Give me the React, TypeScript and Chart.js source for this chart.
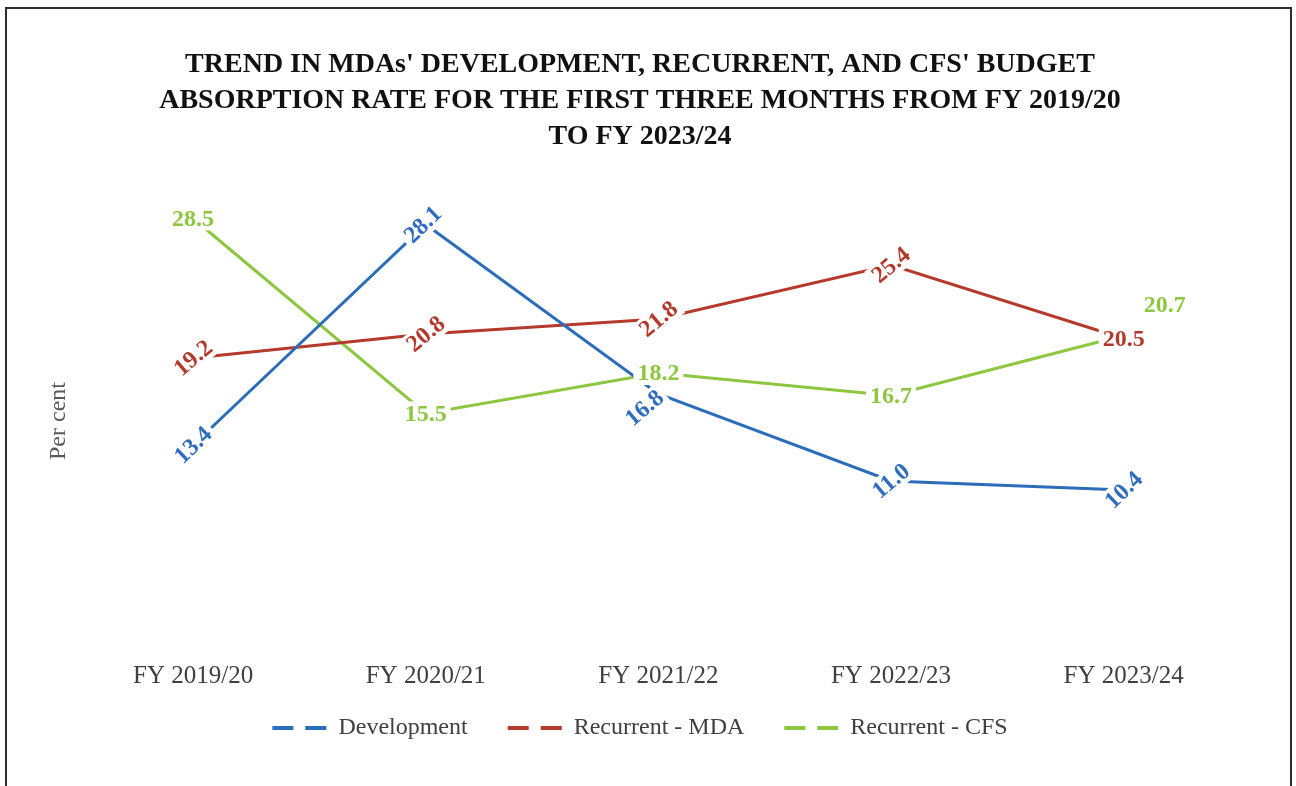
import React, { useEffect, useRef } from 'react';
import { Chart, registerables } from 'chart.js';

Chart.register(...registerables);

// ---------- data ----------
const categories = ['FY 2019/20', 'FY 2020/21', 'FY 2021/22', 'FY 2022/23', 'FY 2023/24'];
const development = [13.4, 28.1, 16.8, 11.0, 10.4];
const recurrentMDA = [19.2, 20.8, 21.8, 25.4, 20.5];
const recurrentCFS = [28.5, 15.5, 18.2, 16.7, 20.7];
const seriesNames = ['Development', 'Recurrent - MDA', 'Recurrent - CFS'];
const titleLines = [
  "TREND IN MDAs' DEVELOPMENT, RECURRENT, AND CFS' BUDGET",
  'ABSORPTION RATE FOR THE FIRST THREE MONTHS FROM FY 2019/20',
  'TO FY 2023/24',
];
const yAxisTitle = 'Per cent';

// ---------- styles ----------
const SERIF = '"Liberation Serif", "Times New Roman", serif';
const lineColors = ['#2C6DB9', '#B53A2C', '#8DC63F'];
const labelColors = ['#2F6DBE', '#B2392C', '#8DC63F'];
// label rotation (degrees) per series / point
const labelRotation = [
  [-44, -44, -40, -40, -44],
  [-40, -40, -40, -40, 0],
  [0, 0, 0, 0, 0],
];
// label offsets (px) per series / point
const labelOffset: number[][][] = [
  [[0, 0], [-3, 0], [-14, 14], [0, 0], [0, 0]],
  [[0, 0], [0, 0], [0, 0], [0, 0], [0, 0]],
  [[0, 0], [0, 0], [0, 0], [0, 0], [41, -31]],
];

const centerLabelPlugin = {
  id: 'centerLabels',
  afterDatasetsDraw(chart: any) {
    const ctx = chart.ctx as CanvasRenderingContext2D;
    ctx.save();
    ctx.font = `bold 24px ${SERIF}`;
    ctx.textAlign = 'center';
    ctx.textBaseline = 'middle';
    chart.data.datasets.forEach((ds: any, i: number) => {
      const meta = chart.getDatasetMeta(i);
      meta.data.forEach((pt: any, j: number) => {
        const v = ds.data[j] as number;
        const text = v.toFixed(1);
        const [dx, dy] = labelOffset[i][j];
        const rot = (labelRotation[i][j] * Math.PI) / 180;
        const w = ctx.measureText(text).width;
        const h = 18;
        ctx.save();
        ctx.translate(pt.x + dx, pt.y + dy);
        ctx.rotate(rot);
        ctx.fillStyle = '#ffffff';
        ctx.fillRect(-w / 2 - 4, -h / 2 - 3, w + 8, h + 6);
        ctx.fillStyle = labelColors[i];
        ctx.fillText(text, 0, 1);
        ctx.restore();
      });
    });
    ctx.restore();
  },
};

// legend rows sit a little higher than the label padding would put them
const LEGEND_SHIFT = 30;
const legendShiftPlugin = {
  id: 'legendShift',
  afterLayout(chart: any) {
    const l = chart.legend;
    if (l) {
      l.top -= LEGEND_SHIFT;
      l.bottom -= LEGEND_SHIFT;
    }
  },
};

export default function App() {
  const ref = useRef<HTMLCanvasElement | null>(null);

  useEffect(() => {
    if (!ref.current) return;
    const series = [development, recurrentMDA, recurrentCFS];
    const chart = new Chart(ref.current, {
      type: 'line',
      data: {
        labels: categories,
        datasets: series.map((d, i) => ({
          label: seriesNames[i],
          data: d,
          borderColor: lineColors[i],
          backgroundColor: lineColors[i],
          borderWidth: 3,
          pointRadius: 0,
          pointHoverRadius: 0,
          tension: 0,
          fill: false,
        })),
      },
      options: {
        responsive: false,
        animation: false,
        events: [],
        layout: { padding: { left: 40, right: 56, top: 0, bottom: 10 } },
        scales: {
          x: {
            type: 'category',
            offset: true,
            grid: { display: false, drawTicks: false },
            border: { display: false },
            ticks: {
              padding: 15,
              color: '#404040',
              font: { family: SERIF, size: 25 },
              maxRotation: 0,
            },
          },
          y: {
            min: 0,
            max: 30,
            grid: { display: false, drawTicks: false },
            border: { display: false },
            ticks: { display: false },
            title: {
              display: true,
              text: yAxisTitle,
              color: '#5a5a5a',
              font: { family: SERIF, size: 24 },
              padding: { top: 4, bottom: 4 },
            },
          },
        },
        plugins: {
          title: {
            display: true,
            text: titleLines,
            color: '#111111',
            font: { family: SERIF, size: 28, weight: 'bold', lineHeight: 1.286 },
            padding: { top: 47, bottom: 41 },
          },
          legend: {
            display: true,
            position: 'bottom',
            maxHeight: 70,
            labels: {
              usePointStyle: true,
              pointStyleWidth: 54,
              padding: 40,
              color: '#404040',
              font: { family: SERIF, size: 24 },
              generateLabels: (c: any) => {
                const base = (Chart.defaults.plugins.legend.labels as any).generateLabels(c);
                return base.map((item: any, i: number) => ({
                  ...item,
                  pointStyle: 'line',
                  lineDash: [21, 12],
                  lineWidth: 4,
                  lineCap: 'butt',
                  strokeStyle: lineColors[i],
                  fillStyle: lineColors[i],
                }));
              },
            },
          },
          tooltip: { enabled: false },
        },
      },
      plugins: [centerLabelPlugin, legendShiftPlugin],
    } as any);
    return () => chart.destroy();
  }, []);

  return (
    <div style={{ position: 'fixed', left: 0, top: 0, width: 1296, height: 786, background: '#ffffff', overflow: 'hidden' }}>
      <canvas ref={ref} width={1296} height={786} style={{ position: 'absolute', left: 0, top: 0, width: 1296, height: 786 }} />
      <div
        style={{
          position: 'absolute',
          left: 5,
          top: 7,
          width: 1287,
          height: 800,
          border: '2px solid #2d2d3a',
          boxSizing: 'border-box',
          pointerEvents: 'none',
        }}
      />
    </div>
  );
}
